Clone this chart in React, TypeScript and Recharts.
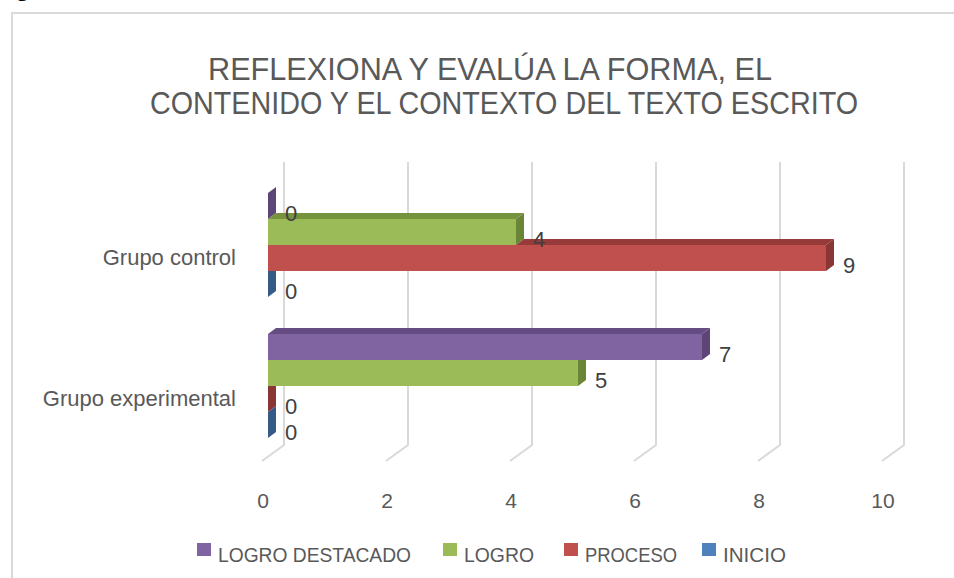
import { Bar, BarChart, CartesianGrid, LabelList, XAxis, YAxis } from 'recharts';

const categories = ['Grupo control', 'Grupo experimental'];
const logroDestacado = [0, 7];
const logro = [4, 5];
const proceso = [9, 0];
const inicio = [0, 0];
const xTicks = [0, 2, 4, 6, 8, 10];
const titleLines = ['REFLEXIONA Y EVALÚA LA FORMA, EL', 'CONTENIDO Y EL CONTEXTO DEL TEXTO ESCRITO'];

// top to bottom inside each group, same as the legend
const series = [
  { key: 'logroDestacado', name: 'LOGRO DESTACADO', color: '#8064A2', top: '#654D83', side: '#5C4677', upper: null },
  { key: 'logro', name: 'LOGRO', color: '#9BBB59', top: '#76923C', side: '#6B8536', upper: 'logroDestacado' },
  { key: 'proceso', name: 'PROCESO', color: '#C0504D', top: '#963B39', side: '#8A3634', upper: 'logro' },
  { key: 'inicio', name: 'INICIO', color: '#4F81BD', top: '#3B6291', side: '#365A86', upper: 'proceso' },
];

const data = categories.map((name, i) => ({
  name,
  logroDestacado: logroDestacado[i],
  logro: logro[i],
  proceso: proceso[i],
  inicio: inicio[i],
}));

const FONT = '"Liberation Sans", Arial, sans-serif';
const DX = 8;
const DY = 6;

// layout of the title and legend (Calibri in the original, so widths are forced)
const titleLayout = [
  { x: 208, y: 69, w: 564 },
  { x: 150, y: 103, w: 708 },
];
const legendLayout = [
  { x: 197, w: 193 },
  { x: 443, w: 70 },
  { x: 564, w: 92 },
  { x: 702, w: 63 },
];

function makeShape(s: (typeof series)[number]) {
  return (p: any) => {
    const { x, y, width, height, payload } = p;
    const val = payload[s.key];
    const upVal = s.upper ? payload[s.upper] : -1;
    const unit = val > 0 ? width / val : 0;
    const w = Math.max(0, width);
    const ex = x + w;
    const clipSide = s.upper !== null && upVal > val;
    const topStart = s.upper === null ? x : x + upVal * unit;
    const showTop = s.upper === null || val > upVal;
    return (
      <g>
        {w > 0 && <rect x={x} y={y} width={w} height={height} fill={s.color} />}
        {showTop && w > 0 && (
          <polygon
            points={`${topStart},${y} ${topStart + DX},${y - DY} ${ex + DX},${y - DY} ${ex},${y}`}
            fill={s.top}
          />
        )}
        <polygon
          points={
            clipSide
              ? `${ex},${y} ${ex + DX},${y} ${ex + DX},${y + height - DY} ${ex},${y + height}`
              : `${ex},${y} ${ex + DX},${y - DY} ${ex + DX},${y + height - DY} ${ex},${y + height}`
          }
          fill={s.side}
        />
      </g>
    );
  };
}

const gridLine = (p: any) => {
  const { x1, y1, y2, key } = p;
  return (
    <path
      key={key}
      d={`M${x1 + 16},${y1 - 12} L${x1 + 16},${y2 - 11} L${x1 - 6},${y2 + 5}`}
      fill="none"
      stroke="#D9D9D9"
      strokeWidth={2}
    />
  );
};

const valueLabel = (p: any) => {
  const { x, y, width, height, value } = p;
  return (
    <text
      x={x + Math.max(0, width) + 17}
      y={y + height / 2 + 7}
      dominantBaseline="central"
      fontSize={22}
      fontFamily={FONT}
      fill="#404040"
    >
      {value}
    </text>
  );
};

const CategoryTick = (p: any) => {
  const { y, payload } = p;
  return (
    <text x={236} y={y + 13} textAnchor="end" dominantBaseline="central" fontSize={22} fontFamily={FONT} fill="#595959">
      {payload.value}
    </text>
  );
};

const ValueTick = (p: any) => {
  const { x, payload } = p;
  return (
    <text x={x - 5} y={500} textAnchor="middle" dominantBaseline="central" fontSize={21} fontFamily={FONT} fill="#595959">
      {payload.value}
    </text>
  );
};

export default function App() {
  return (
    <div style={{ position: 'absolute', left: 0, top: 0, width: 954, height: 578, background: '#fff', overflow: 'hidden' }}>
      <div style={{ position: 'absolute', left: 11, top: 12, width: 960, height: 600, borderLeft: '2px solid #D9D9D9', borderTop: '2px solid #D9D9D9' }} />
      <div style={{ position: 'absolute', left: 17, top: -24, fontFamily: '"Liberation Serif", serif', fontWeight: 'bold', fontSize: 22 }}>g</div>
      <svg width={954} height={140} style={{ position: 'absolute', left: 0, top: 0 }}>
        {titleLines.map((t, i) => (
          <text
            key={t}
            x={titleLayout[i].x}
            y={titleLayout[i].y}
            textLength={titleLayout[i].w}
            lengthAdjust="spacingAndGlyphs"
            dominantBaseline="central"
            fontSize={32}
            fontFamily={FONT}
            fill="#595959"
          >
            {t}
          </text>
        ))}
      </svg>
      <div style={{ position: 'absolute', left: 0, top: 0 }}>
        <BarChart
          width={954}
          height={578}
          data={data}
          layout="vertical"
          margin={{ top: 174, right: 66, bottom: 82, left: 0 }}
          barCategoryGap={19}
          barGap={0}
        >
          <CartesianGrid horizontal={false} vertical={gridLine} />
          <XAxis
            type="number"
            domain={[0, 10]}
            ticks={xTicks}
            axisLine={false}
            tickLine={false}
            height={40}
            tick={<ValueTick />}
          />
          <YAxis type="category" dataKey="name" width={268} axisLine={false} tickLine={false} tick={<CategoryTick />} />
          {series.map((s) => (
            <Bar key={s.key} dataKey={s.key} name={s.name} fill={s.color} shape={makeShape(s)} isAnimationActive={false}>
              <LabelList dataKey={s.key} content={valueLabel} />
            </Bar>
          ))}
        </BarChart>
      </div>
      <svg width={954} height={50} style={{ position: 'absolute', left: 0, top: 528 }}>
        {series.map((s, i) => (
          <g key={s.key}>
            <rect x={legendLayout[i].x} y={15} width={14} height={13} fill={s.color} />
            <text
              x={legendLayout[i].x + 21}
              y={26}
              textLength={legendLayout[i].w}
              lengthAdjust="spacingAndGlyphs"
              dominantBaseline="central"
              fontSize={21}
              fontFamily={FONT}
              fill="#595959"
            >
              {s.name}
            </text>
          </g>
        ))}
      </svg>
    </div>
  );
}
